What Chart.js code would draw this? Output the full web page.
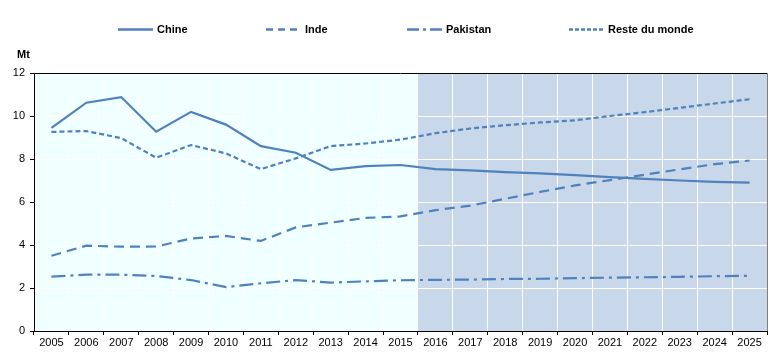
<!DOCTYPE html>
<html>
<head>
<meta charset="utf-8">
<script src="https://cdn.jsdelivr.net/npm/chart.js@4"></script>
<style>
  body { margin: 0; background: #fff; }
  #wrap { width: 775px; height: 360px; }
</style>
</head>
<body>
<div id="wrap"><canvas id="chart" width="775" height="360"></canvas></div>
<script>
// data
const years = ['2005','2006','2007','2008','2009','2010','2011','2012','2013','2014','2015',
               '2016','2017','2018','2019','2020','2021','2022','2023','2024','2025'];
const chine    = [9.45, 10.62, 10.88, 9.27, 10.19, 9.6, 8.6, 8.29, 7.49, 7.67, 7.72, 7.53, 7.47, 7.39, 7.33, 7.25, 7.16, 7.08, 7.0, 6.94, 6.9];
const inde     = [3.5, 3.97, 3.92, 3.93, 4.3, 4.42, 4.19, 4.82, 5.04, 5.26, 5.33, 5.62, 5.83, 6.15, 6.47, 6.77, 7.02, 7.27, 7.52, 7.76, 7.93];
const pakistan = [2.53, 2.62, 2.62, 2.56, 2.37, 2.04, 2.22, 2.37, 2.25, 2.31, 2.36, 2.38, 2.39, 2.42, 2.43, 2.46, 2.48, 2.5, 2.52, 2.55, 2.57];
const reste    = [9.26, 9.3, 8.97, 8.06, 8.65, 8.26, 7.53, 8.03, 8.6, 8.72, 8.9, 9.2, 9.42, 9.57, 9.7, 9.8, 10.0, 10.18, 10.38, 10.58, 10.78];
const seriesNames = ['Chine', 'Inde', 'Pakistan', 'Reste du monde'];
const projStart = '2016'; // projection period starts here
const yTicks = [0, 2, 4, 6, 8, 10, 12];
const unitLabel = 'Mt';

const blue = '#4F81BD';
const dashes = [[], [10, 6], [14, 5, 3, 5], [5, 3]];
const legendDashes = [[], [7, 5], [12, 4, 3, 4], [4, 2]];
const FONT = '"Liberation Sans", Arial, sans-serif';

// background bands + frame
const bgPlugin = {
  id: 'bg',
  beforeDraw(chart) {
    const { ctx, chartArea: a, scales } = chart;
    const i = years.indexOf(projStart);
    const xb = (scales.x.getPixelForValue(i - 1) + scales.x.getPixelForValue(i)) / 2;
    ctx.save();
    ctx.fillStyle = '#F0FFFF';
    ctx.fillRect(a.left, a.top, xb - a.left, a.bottom - a.top);
    ctx.fillStyle = '#C8D7E9';
    ctx.fillRect(xb, a.top, a.right - xb, a.bottom - a.top);
    ctx.restore();
  },
  afterDraw(chart) {
    const { ctx, chartArea: a } = chart;
    ctx.save();
    ctx.lineWidth = 1;
    ctx.strokeStyle = '#000';
    ctx.beginPath();
    ctx.moveTo(a.left, a.top + 0.5);
    ctx.lineTo(a.right, a.top + 0.5);
    ctx.stroke();
    ctx.strokeStyle = '#808080';
    ctx.beginPath();
    ctx.moveTo(a.right + 0.5, a.top);
    ctx.lineTo(a.right + 0.5, a.bottom);
    ctx.stroke();

    // unit label
    ctx.fillStyle = '#000';
    ctx.font = 'bold 11px ' + FONT;
    ctx.textBaseline = 'middle';
    ctx.textAlign = 'left';
    ctx.fillText(unitLabel, 17, 55);

    // legend
    const lx = [118, 266, 407, 569];
    const ly = 29.5;
    ctx.lineWidth = 2.5;
    ctx.strokeStyle = blue;
    seriesNames.forEach((name, k) => {
      ctx.setLineDash(legendDashes[k]);
      ctx.beginPath();
      ctx.moveTo(lx[k], ly);
      ctx.lineTo(lx[k] + 35, ly);
      ctx.stroke();
      ctx.fillText(name, lx[k] + 39, ly);
    });
    ctx.restore();
  }
};

const datasets = [chine, inde, pakistan, reste].map((d, k) => ({
  label: seriesNames[k],
  data: d,
  borderColor: blue,
  backgroundColor: blue,
  borderWidth: 2.2,
  borderDash: dashes[k],
  pointRadius: 0,
  tension: 0,
  fill: false
}));

new Chart(document.getElementById('chart'), {
  type: 'line',
  data: { labels: years, datasets: datasets },
  options: {
    responsive: false,
    animation: false,
    layout: { padding: { top: 73, right: 8, left: 0, bottom: 0 } },
    plugins: { legend: { display: false }, tooltip: { enabled: false } },
    scales: {
      x: {
        offset: true,
        afterFit: (s) => { s.height = 29; },
        grid: { offset: true, color: '#fff', lineWidth: 1, tickLength: 4, tickColor: '#000' },
        border: { color: '#000', width: 1 },
        ticks: { autoSkip: false, maxRotation: 0, color: '#000', padding: 1, font: { family: FONT, size: 11 } }
      },
      y: {
        min: 0,
        max: 12,
        afterFit: (s) => { s.width = 34; },
        afterBuildTicks: (s) => { s.ticks = yTicks.map(v => ({ value: v })); },
        grid: { color: '#fff', lineWidth: 1, tickLength: 4, tickColor: '#000' },
        border: { color: '#000', width: 1 },
        ticks: { color: '#000', padding: 5, font: { family: FONT, size: 11 } }
      }
    }
  },
  plugins: [bgPlugin]
});
</script>
</body>
</html>
